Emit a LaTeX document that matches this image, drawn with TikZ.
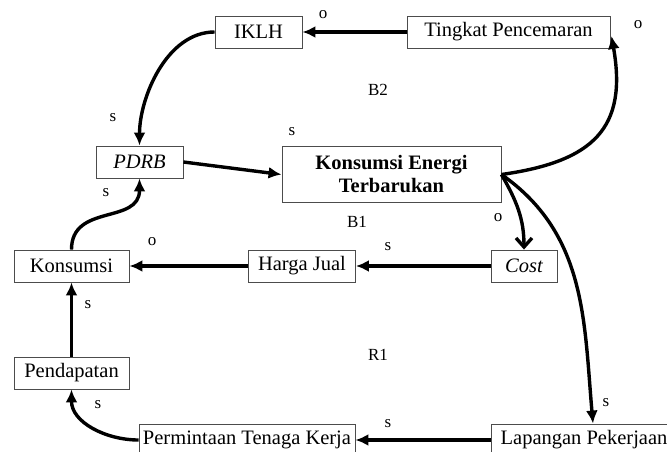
\documentclass[tikz,border=0pt]{standalone}
\usepackage{fontspec}
\setmainfont{Liberation Serif}
\usetikzlibrary{arrows.meta}
\begin{document}
\begin{tikzpicture}[x=1pt,y=-1pt,
  box/.style={draw=black!70, line width=0.9pt, inner sep=0pt, align=center,
    font=\fontsize{20.5}{23}\selectfont},
  lbl/.style={font=\fontsize{17}{19}\selectfont, inner sep=0pt},
  link/.style={line width=3.4pt, -{Latex[length=13pt,width=12pt]}},
  barb/.style={line width=3.4pt, -{Straight Barb[length=9pt,width=16pt,line width=3.4pt]}}
]
\useasboundingbox (0,0) rectangle (667,452);

% variables
\node[box, minimum width=87pt,  minimum height=32pt] (iklh)  at (258.5,32) {IKLH};
\node[box, minimum width=203pt, minimum height=32pt] (tp)    at (508.5,32) {Tingkat Pencemaran};
\node[box, minimum width=87pt,  minimum height=32pt] (pdrb)  at (139.5,162) {\itshape PDRB};
\node[box, minimum width=219pt, minimum height=56pt] (ket)   at (391.5,174.5) {\bfseries Konsumsi Energi\\\bfseries Terbarukan};
\node[box, minimum width=115pt, minimum height=32pt] (kons)  at (71.5,266) {Konsumsi};
\node[box, minimum width=107pt, minimum height=32pt] (hj)    at (302,266) {Harga Jual};
\node[box, minimum width=66pt,  minimum height=32pt] (cost)  at (524,266) {\itshape Cost};
\node[box, minimum width=115pt, minimum height=32pt] (pend)  at (71.5,373) {Pendapatan};
\node[box, minimum width=216pt, minimum height=32pt] (ptk)   at (247,440) {Permintaan Tenaga Kerja};
\node[box, minimum width=186pt, minimum height=32pt] (lp)    at (584,440) {Lapangan Pekerjaan};

% causal links
\draw[link] (tp) -- (iklh);
\draw[link] (iklh.west) to[out=180,in=90,looseness=0.9] (pdrb.north);
\draw[link] (pdrb.east) -- (ket.west);
\draw[link] (ket.east) to[out=8,in=-80,looseness=1.35] ([xshift=1pt,yshift=-4pt]tp.east);
\draw[barb] (ket.east) to[out=-60,in=90] (cost.north);
\draw[link] (ket.east) to[out=-35,in=95] ([xshift=9pt]lp.north);
\draw[link] (cost) -- (hj);
\draw[link] (hj) -- (kons);
\draw[link] (kons.north) to[out=90,in=-90,looseness=1.2] (pdrb.south);
\draw[link] (pend) -- (kons);
\draw[link] (ptk.west) to[out=180,in=-90] (pend.south);
\draw[link] (lp) -- (ptk);

% polarity and loop labels
\node[lbl] (p1) at (323,15) {o};
\node[lbl] (p2) at (638,25) {o};
\node[lbl] (p3) at (113,118) {s};
\node[lbl] (p4) at (292,132) {s};
\node[lbl] (p5) at (106,193) {s};
\node[lbl] (p6) at (498,218) {o};
\node[lbl] (p7) at (152,242) {o};
\node[lbl] (p8) at (388,247) {s};
\node[lbl] (p9) at (88,305) {s};
\node[lbl] (p10) at (98,405) {s};
\node[lbl] (p11) at (606,403) {s};
\node[lbl] (p12) at (388,424) {s};
\node[lbl] (b2) at (378,90) {B2};
\node[lbl] (b1) at (357,222) {B1};
\node[lbl] (r1) at (378,355) {R1};
\end{tikzpicture}
\end{document}
